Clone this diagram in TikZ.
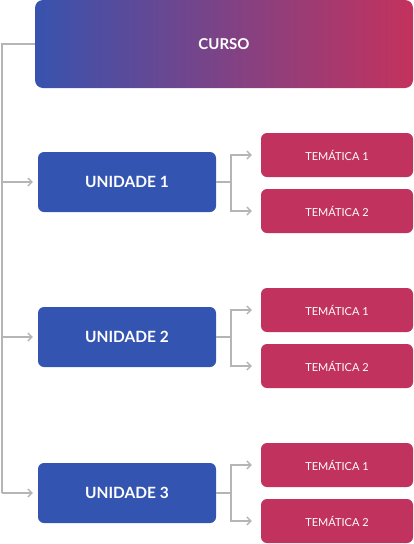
\documentclass[tikz,border=0pt]{standalone}
\usepackage{fontspec}
\setmainfont{Lato}
\usetikzlibrary{arrows.meta}
\definecolor{ublue}{HTML}{3354B1}
\definecolor{tpink}{HTML}{C2325E}
\definecolor{gstart}{HTML}{3853AE}
\definecolor{gend}{HTML}{C4325D}
\definecolor{lgray}{HTML}{B5B5B5}
\begin{document}
\begin{tikzpicture}[x=1pt,y=-1pt,
  unitbox/.style={fill=ublue,rounded corners=6pt,text=white,font=\fontsize{15.5}{18}\selectfont\bfseries,minimum width=178pt,minimum height=60pt,inner sep=0pt},
  topicbox/.style={fill=tpink,rounded corners=6pt,text=white,font=\fontsize{11}{13}\selectfont,minimum width=152pt,minimum height=44pt,inner sep=0pt},
  conn/.style={draw=lgray,line width=1.5pt},
  arr/.style={conn,-{Straight Barb[length=4pt,width=8pt,line width=1.3pt]}}
]
\useasboundingbox (0,0) rectangle (414,544);
\shade[left color=gstart,right color=gend,rounded corners=8pt] (35,0) rectangle (413,88);
\node[text=white,font=\fontsize{15}{18}\selectfont\bfseries] (curso) at (224,44) {CURSO};
\coordinate (cl) at (35,44);

\node[unitbox] (u1) at (127,182) {UNIDADE 1};
\node[unitbox] (u2) at (127,337) {UNIDADE 2};
\node[unitbox] (u3) at (127,493) {UNIDADE 3};

\node[topicbox] (t11) at (337,155) {TEMÁTICA 1};
\node[topicbox] (t12) at (337,211) {TEMÁTICA 2};
\node[topicbox] (t21) at (337,310) {TEMÁTICA 1};
\node[topicbox] (t22) at (337,366) {TEMÁTICA 2};
\node[topicbox] (t31) at (337,465) {TEMÁTICA 1};
\node[topicbox] (t32) at (337,521) {TEMÁTICA 2};

% main trunk
\coordinate (trunk) at (2,44);
\draw[conn] (cl) -- (trunk) -- (2,493);
\foreach \u in {u1,u2,u3}{
  \draw[arr] (2,0 |- \u.west) -- ([xshift=-5pt]\u.west);
}
% sub connectors
\foreach \u/\a/\b in {u1/t11/t12,u2/t21/t22,u3/t31/t32}{
  \draw[conn] (\u.east) -- ++(15,0);
  \draw[conn] ([xshift=15pt]\u.east |- \a.west) -- ([xshift=15pt]\u.east |- \b.west);
  \draw[arr] ([xshift=14pt]\u.east |- \a.west) -- ([xshift=-9pt]\a.west);
  \draw[arr] ([xshift=14pt]\u.east |- \b.west) -- ([xshift=-9pt]\b.west);
}
\end{tikzpicture}
\end{document}
